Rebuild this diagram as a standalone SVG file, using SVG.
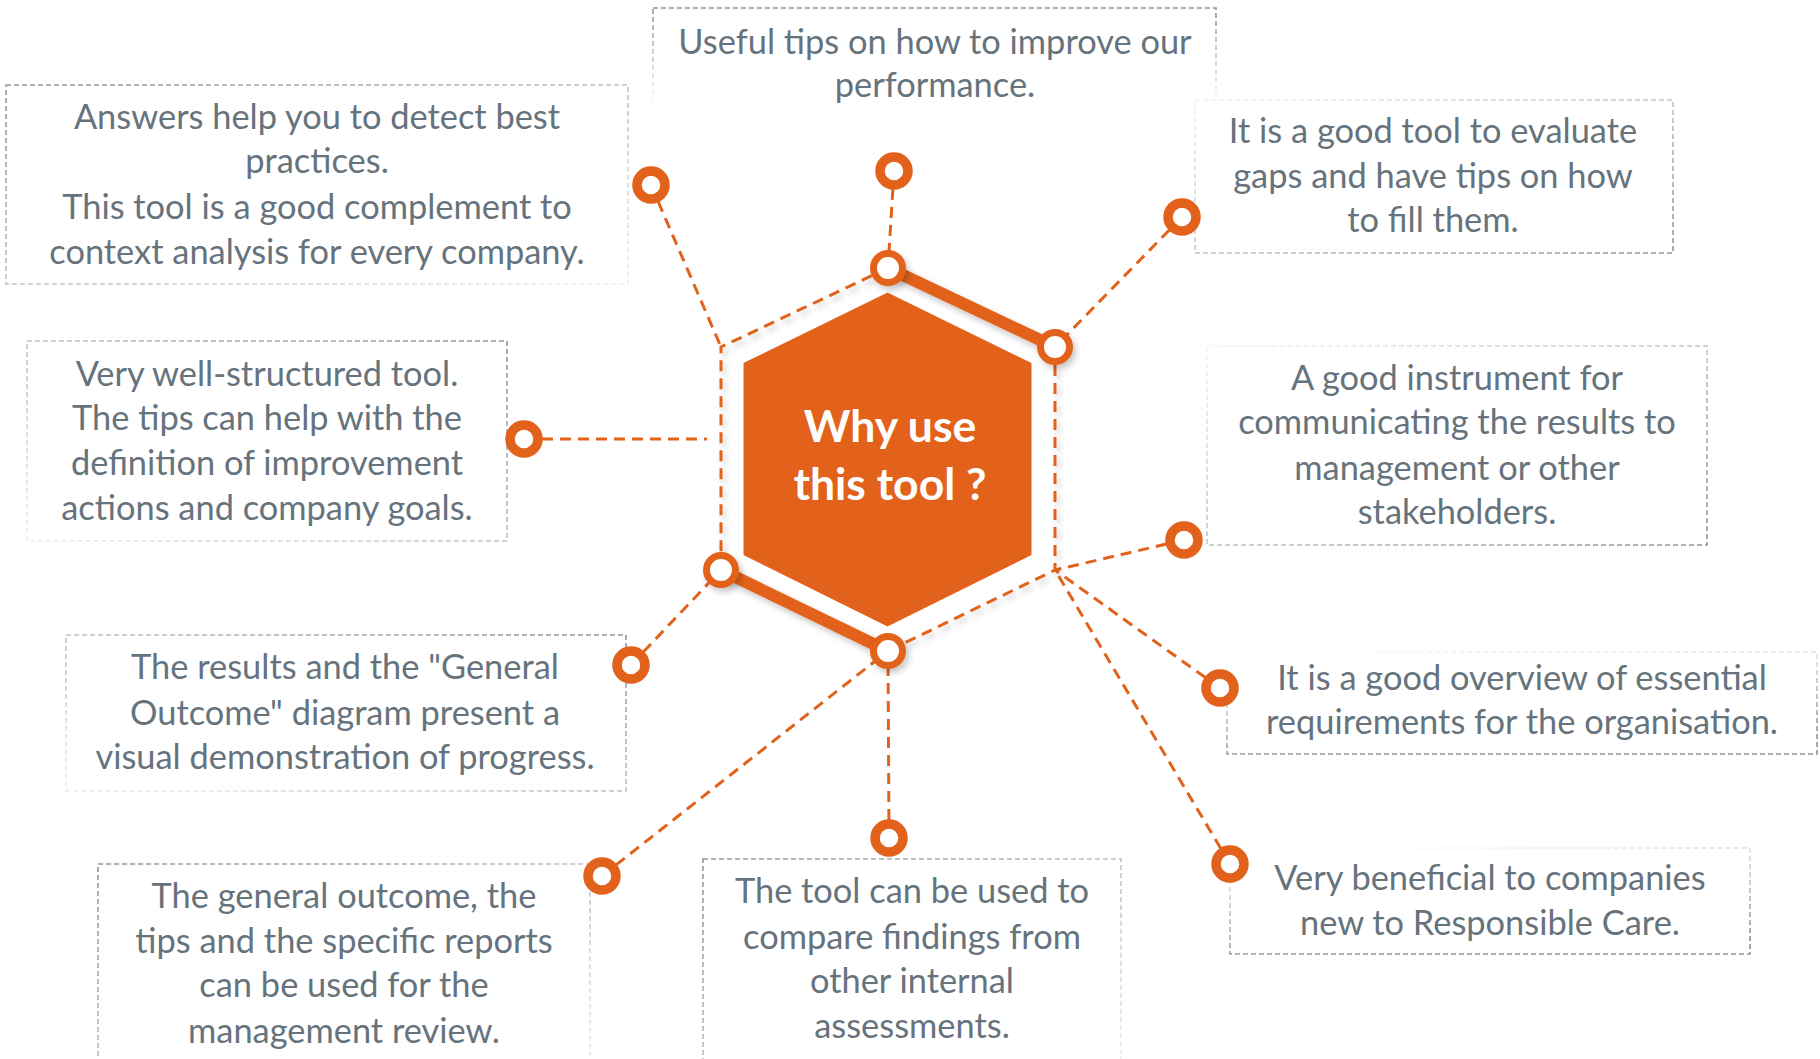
<svg xmlns="http://www.w3.org/2000/svg" width="1820" height="1059" viewBox="0 0 1820 1059">
<style>
.box{fill:none;stroke-width:1.6;stroke-dasharray:5 3}
.t{font-family:Lato,"Open Sans","Liberation Sans",sans-serif;font-size:34.4px;fill:#66737c;text-anchor:middle}
.title{font-family:Lato,"Open Sans","Liberation Sans",sans-serif;font-size:44.5px;font-weight:bold;fill:#ffffff;text-anchor:middle}
.dash{fill:none;stroke:#e2621b;stroke-width:3;stroke-dasharray:11 7}
.bar{fill:none;stroke:#e2621b;stroke-width:12;stroke-linecap:round}
.inode{fill:#ffffff;stroke:#e2621b;stroke-width:7}
.onode{fill:#ffffff;stroke:#e2621b;stroke-width:9.5}
</style>
<defs>
<linearGradient id="gTL" x1="0" y1="0" x2="1" y2="1"><stop offset="0" stop-color="#8e959a"/><stop offset="1" stop-color="#eef0f1"/></linearGradient>
<linearGradient id="gBR" x1="1" y1="1" x2="0" y2="0"><stop offset="0" stop-color="#8e959a"/><stop offset="1" stop-color="#f3f4f5"/></linearGradient>
<linearGradient id="gTR" x1="1" y1="0" x2="0" y2="1"><stop offset="0" stop-color="#8e959a"/><stop offset="1" stop-color="#eceeef"/></linearGradient>
<linearGradient id="gT" x1="0" y1="0" x2="0" y2="1"><stop offset="0" stop-color="#8e959a"/><stop offset="1" stop-color="#ffffff"/></linearGradient>
<linearGradient id="gB" x1="0.3" y1="1" x2="0" y2="0"><stop offset="0" stop-color="#8e959a"/><stop offset="1" stop-color="#ffffff"/></linearGradient>
<filter id="sh" x="-10%" y="-10%" width="120%" height="120%"><feDropShadow dx="3" dy="4" stdDeviation="3" flood-color="#000" flood-opacity="0.22"/></filter>
</defs>

<g id="boxes">
<g id="box-top"><rect class="box" x="653" y="8" width="563" height="100" stroke="url(#gT)"/>
<text class="t" x="935" y="54">Useful tips on how to improve our</text>
<text class="t" x="935" y="97">performance.</text></g>

<g id="box-ul"><rect class="box" x="6" y="85" width="622" height="199" stroke="url(#gTL)"/>
<text class="t" x="317" y="129">Answers help you to detect best</text>
<text class="t" x="317" y="173">practices.</text>
<text class="t" x="317" y="219">This tool is a good complement to</text>
<text class="t" x="317" y="264">context analysis for every company.</text></g>

<g id="box-ur"><rect class="box" x="1195" y="100" width="478" height="153" stroke="url(#gBR)"/>
<text class="t" x="1433" y="143">It is a good tool to evaluate</text>
<text class="t" x="1433" y="188">gaps and have tips on how</text>
<text class="t" x="1433" y="232">to fill them.</text></g>

<g id="box-l"><rect class="box" x="27" y="341" width="480" height="200" stroke="url(#gTR)"/>
<text class="t" x="267" y="386">Very well-structured tool.</text>
<text class="t" x="267" y="430">The tips can help with the</text>
<text class="t" x="267" y="475">definition of improvement</text>
<text class="t" x="267" y="520">actions and company goals.</text></g>

<g id="box-rm"><rect class="box" x="1207" y="346" width="500" height="199" stroke="url(#gBR)"/>
<text class="t" x="1457" y="390">A good instrument for</text>
<text class="t" x="1457" y="434">communicating the results to</text>
<text class="t" x="1457" y="480">management or other</text>
<text class="t" x="1457" y="524">stakeholders.</text></g>

<g id="box-ll"><rect class="box" x="66" y="635" width="560" height="156" stroke="url(#gTR)"/>
<text class="t" x="345" y="679">The results and the "General</text>
<text class="t" x="345" y="725">Outcome" diagram present a</text>
<text class="t" x="345" y="769">visual demonstration of progress.</text></g>

<g id="box-r"><rect class="box" x="1227" y="652" width="590" height="102" stroke="url(#gB)"/>
<text class="t" x="1522" y="690">It is a good overview of essential</text>
<text class="t" x="1522" y="734">requirements for the organisation.</text></g>

<g id="box-bl"><rect class="box" x="98" y="864" width="492" height="220" stroke="url(#gTL)"/>
<text class="t" x="344" y="908">The general outcome, the</text>
<text class="t" x="344" y="953">tips and the specific reports</text>
<text class="t" x="344" y="997">can be used for the</text>
<text class="t" x="344" y="1043">management review.</text></g>

<g id="box-b"><rect class="box" x="703" y="859" width="418" height="220" stroke="url(#gTL)"/>
<text class="t" x="912" y="903">The tool can be used to</text>
<text class="t" x="912" y="949">compare findings from</text>
<text class="t" x="912" y="993">other internal</text>
<text class="t" x="912" y="1038">assessments.</text></g>

<g id="box-br"><rect class="box" x="1230" y="848" width="520" height="106" stroke="url(#gB)"/>
<text class="t" x="1490" y="890">Very beneficial to companies</text>
<text class="t" x="1490" y="935">new to Responsible Care.</text></g>
</g>

<g id="connectors">
<line class="dash" x1="651" y1="185" x2="721" y2="347"/>
<line class="dash" x1="894" y1="171" x2="888" y2="268"/>
<line class="dash" x1="1182" y1="217" x2="1055" y2="347"/>
<line class="dash" x1="524" y1="439" x2="707" y2="439"/>
<line class="dash" x1="1184" y1="540" x2="1055" y2="570"/>
<line class="dash" x1="1220" y1="688" x2="1055" y2="570"/>
<line class="dash" x1="1230" y1="864" x2="1055" y2="570"/>
<line class="dash" x1="889" y1="838" x2="888" y2="651"/>
<line class="dash" x1="602" y1="876" x2="888" y2="651"/>
<line class="dash" x1="631" y1="665" x2="721" y2="570"/>
</g>

<g id="frame" filter="url(#sh)">
<polyline class="dash" points="888,268 721,347 721,570"/>
<polyline class="dash" points="1055,347 1055,570 888,651"/>
<line class="bar" x1="888" y1="268" x2="1055" y2="347"/>
<line class="bar" x1="721" y1="570" x2="888" y2="651"/>
</g>

<g id="hub">
<polygon points="887.5,292.5 1031.5,363 1031.5,555 887.5,626.5 743.5,555 743.5,363" fill="#e2621b"/>
<text class="title" x="890" y="442">Why use</text>
<text class="title" x="890" y="500">this tool ?</text>
</g>

<g id="inner-nodes" filter="url(#sh)">
<circle class="inode" cx="888" cy="268" r="14.5"/>
<circle class="inode" cx="1055" cy="347" r="14.5"/>
<circle class="inode" cx="721" cy="570" r="14.5"/>
<circle class="inode" cx="888" cy="651" r="14.5"/>
</g>

<g id="outer-nodes">
<circle class="onode" cx="651" cy="185" r="14"/>
<circle class="onode" cx="894" cy="171" r="14"/>
<circle class="onode" cx="1182" cy="217" r="14"/>
<circle class="onode" cx="524" cy="439" r="14"/>
<circle class="onode" cx="1184" cy="540" r="14"/>
<circle class="onode" cx="1220" cy="688" r="14"/>
<circle class="onode" cx="1230" cy="864" r="14"/>
<circle class="onode" cx="889" cy="838" r="14"/>
<circle class="onode" cx="602" cy="876" r="14"/>
<circle class="onode" cx="631" cy="665" r="14"/>
</g>
</svg>
